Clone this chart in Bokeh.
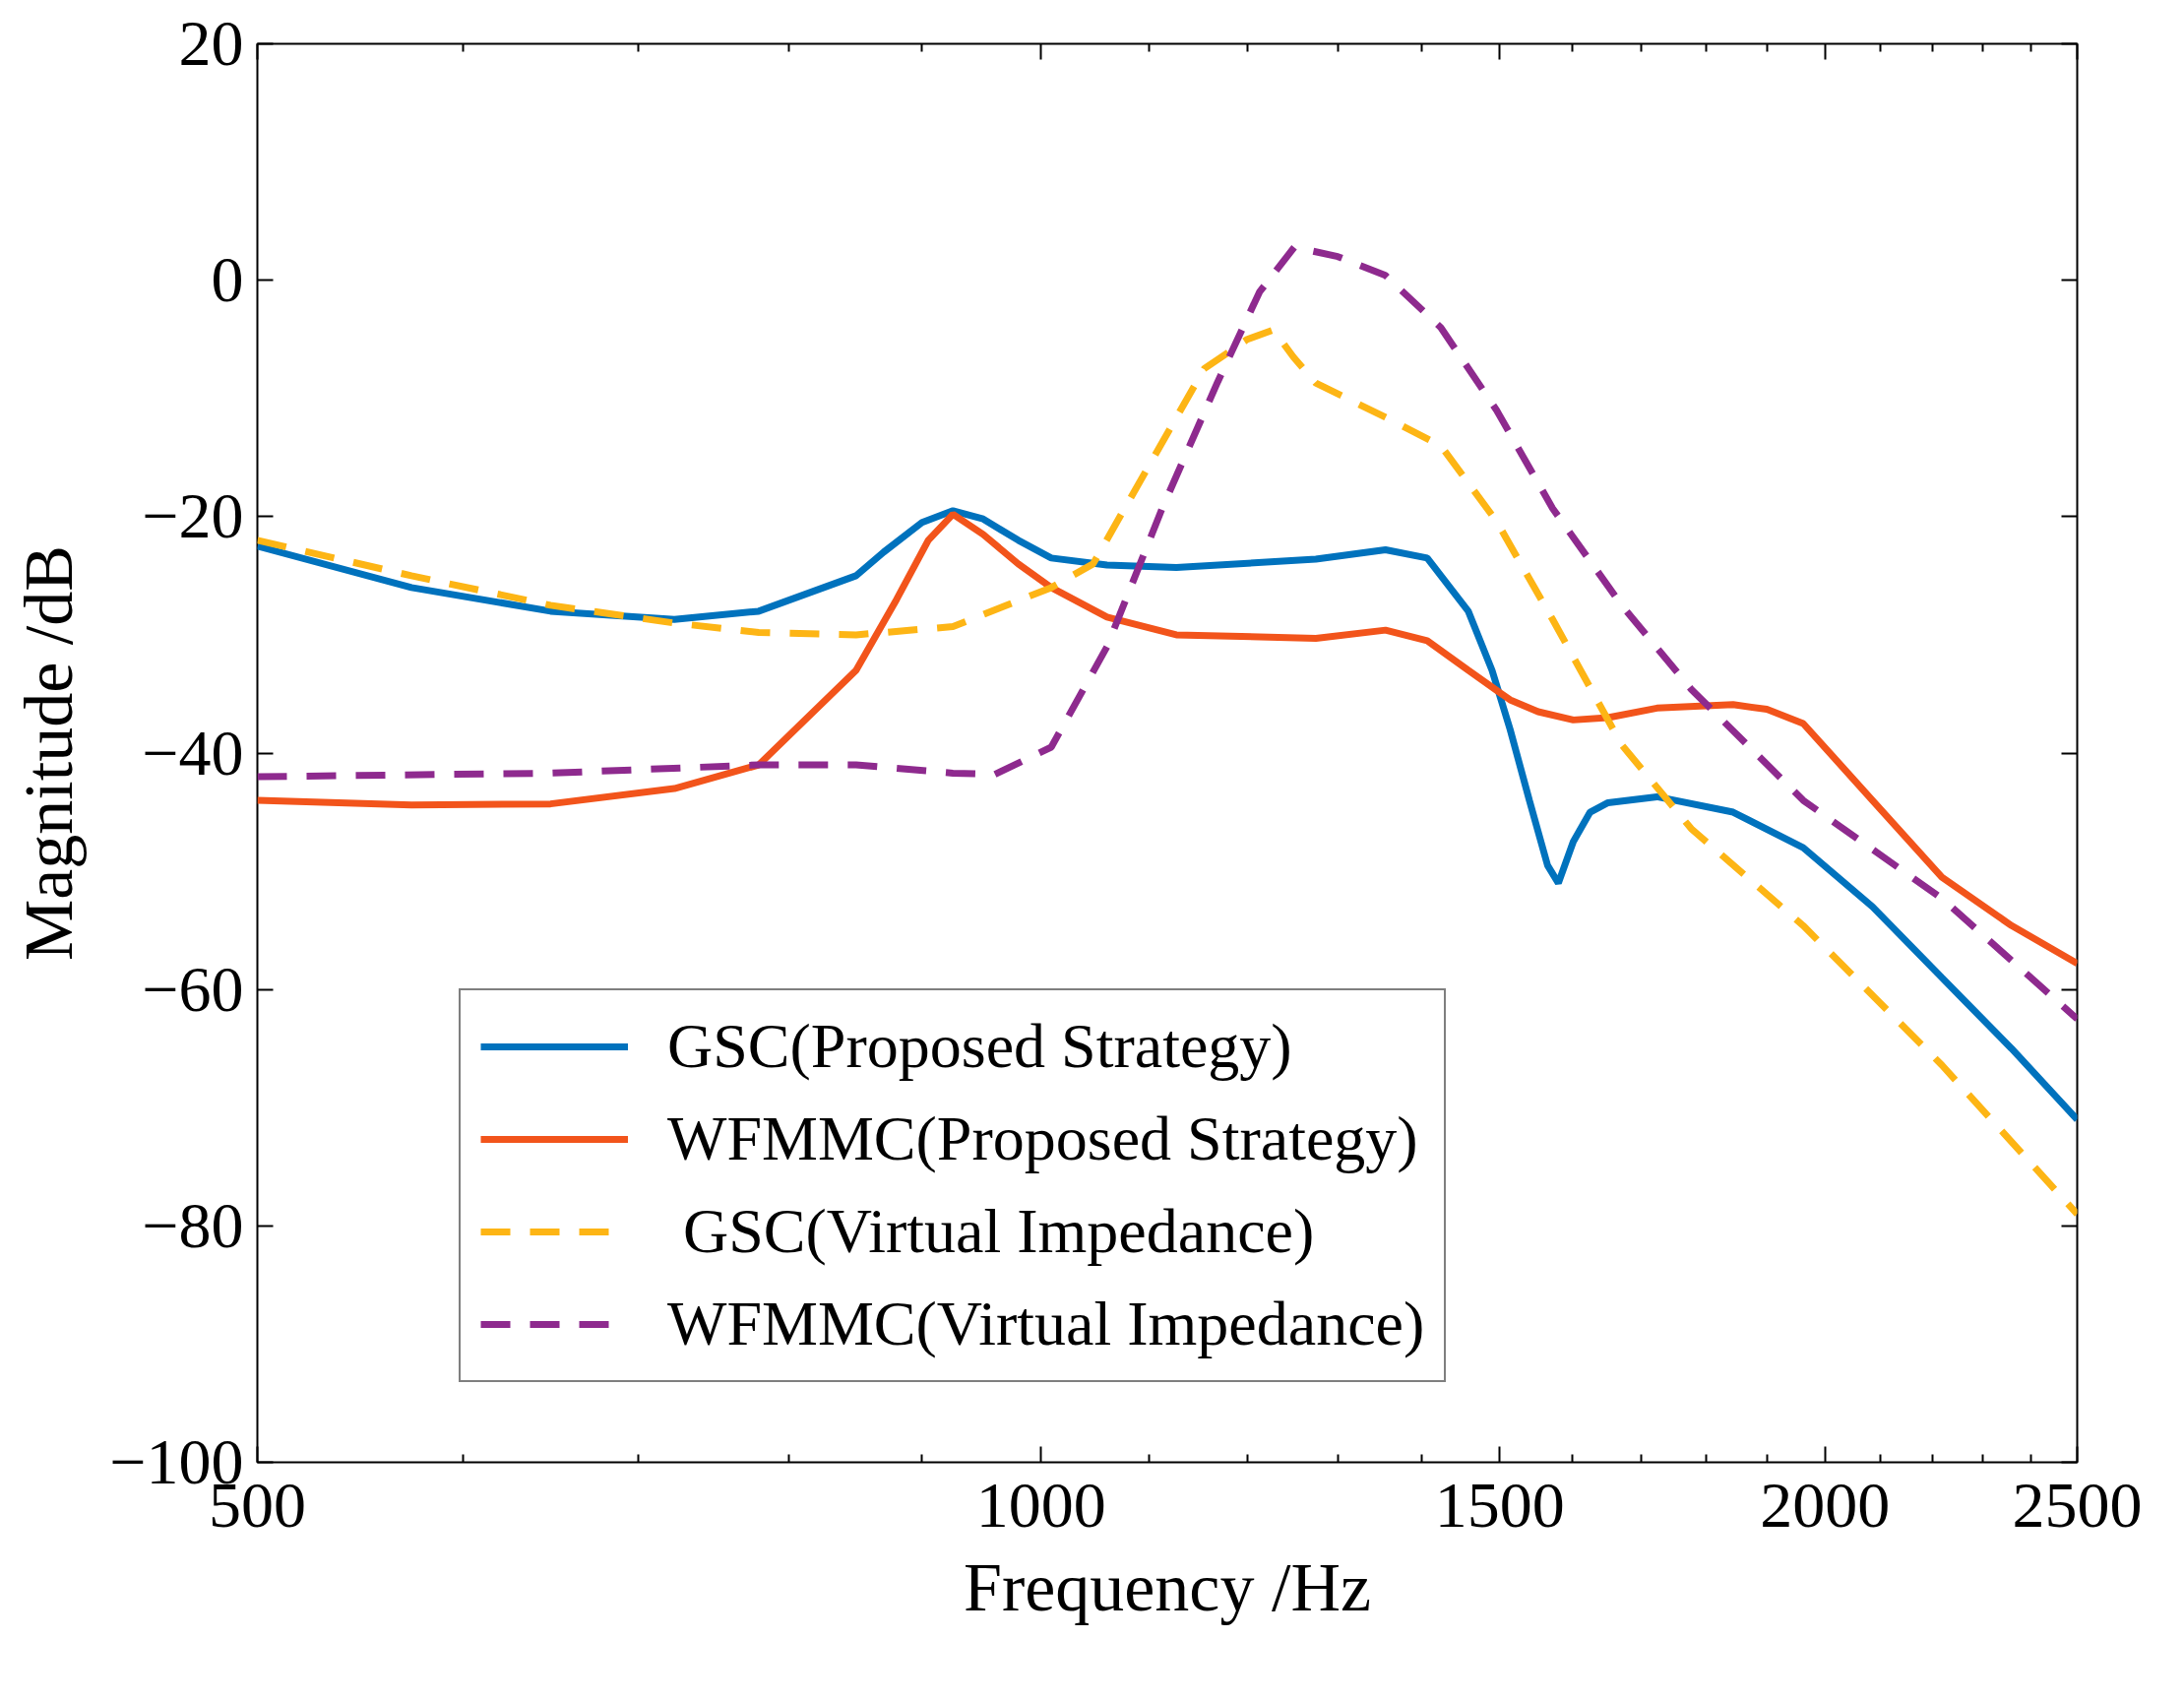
from bokeh.plotting import figure
from bokeh.models import FixedTicker, LinearAxis, LogAxis, Legend, LegendItem, Range1d
from bokeh.embed import file_html
from bokeh.resources import INLINE

gsc_p_f = [500, 573, 648, 723, 779, 849, 870, 900, 925, 950, 980, 1009, 1060, 1127, 1275, 1356, 1407, 1459, 1490, 1514, 1540, 1565, 1580, 1601, 1625, 1651, 1724, 1844, 1962, 2086, 2218, 2359, 2500]
gsc_p_v = [-22.5, -26, -28, -28.7, -28, -25, -23, -20.5, -19.5, -20.2, -22, -23.5, -24.1, -24.3, -23.6, -22.8, -23.5, -28, -33, -38, -44, -49.5, -51, -47.5, -45, -44.2, -43.7, -45, -48, -53, -59, -65, -71]

wf_p_f = [500, 573, 648, 723, 779, 849, 880, 905, 925, 950, 980, 1009, 1060, 1127, 1275, 1356, 1407, 1459, 1514, 1552, 1601, 1651, 1724, 1844, 1900, 1962, 2086, 2218, 2359, 2500]
wf_p_v = [-44, -44.4, -44.3, -43, -41, -33, -27, -22, -19.8, -21.5, -24, -26, -28.5, -30, -30.3, -29.6, -30.5, -33, -35.5, -36.5, -37.2, -37, -36.2, -35.9, -36.3, -37.5, -44, -50.5, -54.6, -57.8]

gsc_v_f = [500, 573, 648, 723, 779, 849, 925, 1009, 1047, 1100, 1155, 1200, 1228, 1250, 1275, 1356, 1424, 1496, 1572, 1671, 1777, 1962, 2218, 2500]
gsc_v_v = [-22, -25, -27.5, -29, -29.8, -30, -29.3, -26, -24, -15.7, -7.5, -5, -4.2, -6.5, -8.7, -11.6, -14, -20.4, -28.7, -39.3, -46.4, -54.6, -66.4, -79]

wf_v_f = [500, 648, 779, 849, 925, 960, 1009, 1060, 1113, 1169, 1213, 1251, 1300, 1356, 1424, 1496, 1572, 1671, 1777, 1962, 2218, 2500]
wf_v_v = [-42, -41.7, -41, -41, -41.7, -41.8, -39.5, -31, -19.3, -8.6, -1, 2.8, 2.0, 0.4, -4, -11, -19.3, -27.5, -34.6, -44, -52.3, -62.5]

FONT = "Liberation Serif"
p = figure(width=2203, height=1713, x_axis_type="log", output_backend="svg", toolbar_location=None,
           x_range=Range1d(500, 2500), y_range=Range1d(-100, 20),
           min_border_left=261, min_border_right=93, min_border_top=44, min_border_bottom=228)
p.grid.visible = False
p.outline_line_color = "black"
p.outline_line_width = 2

xt = FixedTicker(ticks=[500, 1000, 1500, 2000, 2500],
                 minor_ticks=[600, 700, 800, 900, 1100, 1200, 1300, 1400, 1600, 1700, 1800, 1900, 2100, 2200, 2300, 2400])
yt = FixedTicker(ticks=list(range(-100, 21, 20)), minor_ticks=[])

xa = p.below[0]
ya = p.left[0]
xa.ticker = xt
ya.ticker = yt
p.add_layout(LogAxis(ticker=xt, major_label_text_font_size="0px"), "above")
p.add_layout(LinearAxis(ticker=yt, major_label_text_font_size="0px"), "right")
for ax in p.axis:
    ax.major_tick_in = 16
    ax.major_tick_out = 0
    ax.minor_tick_in = 8
    ax.minor_tick_out = 0
    ax.axis_line_color = None
    ax.major_tick_line_width = 2
    ax.minor_tick_line_width = 2
    ax.major_label_text_font = FONT
    ax.major_label_text_color = "black"
    ax.axis_label_text_font = FONT
    ax.axis_label_text_font_style = "normal"
    ax.axis_label_text_color = "black"
xa.major_label_text_font_size = "66px"
ya.major_label_text_font_size = "66px"
xa.axis_label = "Frequency /Hz"
ya.axis_label = "Magnitude /dB"
xa.axis_label_text_font_size = "70px"
ya.axis_label_text_font_size = "70px"
xa.major_label_standoff = 22
ya.major_label_standoff = 14
xa.axis_label_standoff = 20
ya.axis_label_standoff = 20

r1 = p.line(gsc_p_f, gsc_p_v, line_color="#0072BD", line_width=7)
r2 = p.line(wf_p_f, wf_p_v, line_color="#F2541B", line_width=7)
r3 = p.line(gsc_v_f, gsc_v_v, line_color="#FDB515", line_width=7, line_dash="30 20")
r4 = p.line(wf_v_f, wf_v_v, line_color="#8E2A8E", line_width=7, line_dash="30 20")

leg = Legend(items=[LegendItem(label="GSC(Proposed Strategy)", renderers=[r1]),
                    LegendItem(label="WFMMC(Proposed Strategy)", renderers=[r2]),
                    LegendItem(label=" GSC(Virtual Impedance)", renderers=[r3]),
                    LegendItem(label="WFMMC(Virtual Impedance)", renderers=[r4])],
             location=(205, 81), label_text_font=FONT, label_text_font_size="64px",
             label_text_color="black",
             glyph_width=150, glyph_height=70, label_standoff=40, spacing=20, padding=20,
             border_line_color="black", border_line_width=2, background_fill_alpha=1)
p.add_layout(leg)

open("out.html", "w").write(file_html(p, INLINE))
